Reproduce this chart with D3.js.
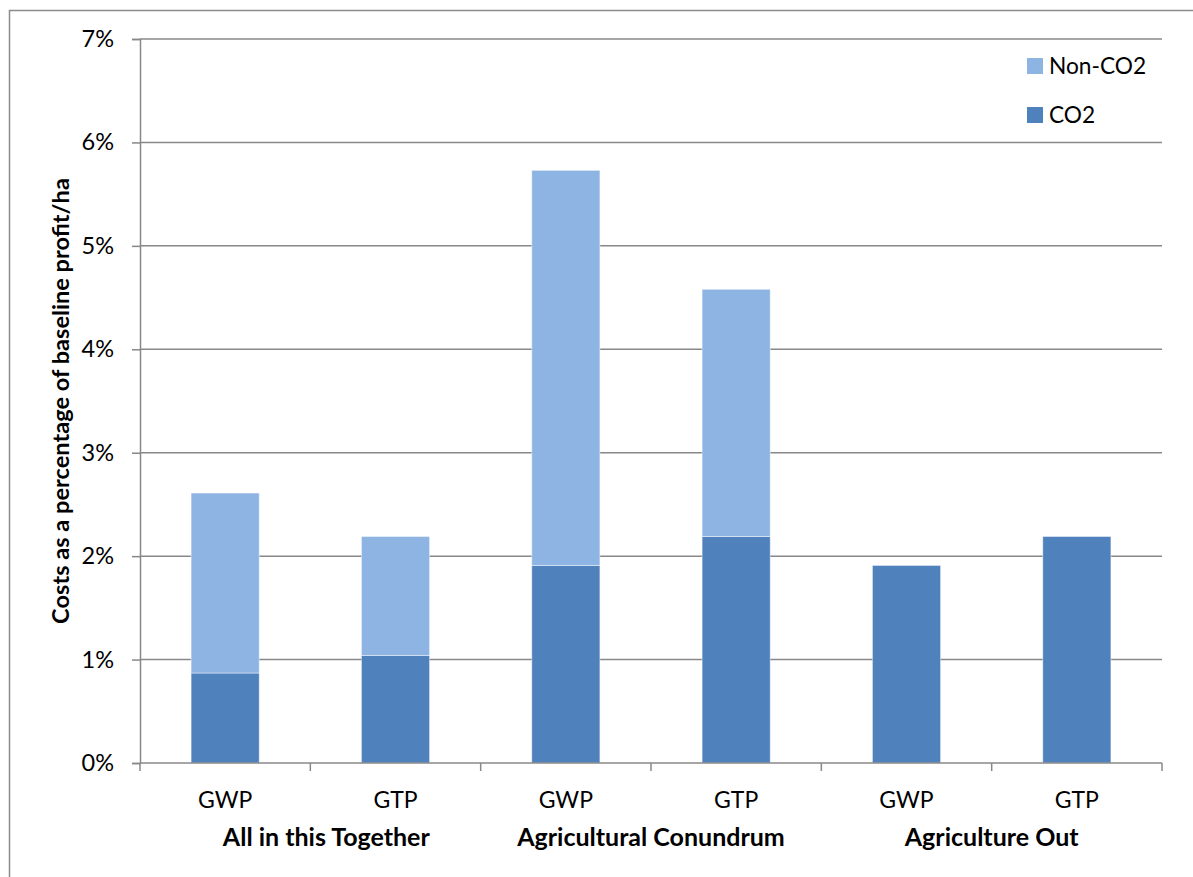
<!DOCTYPE html>
<html>
<head>
<meta charset="utf-8">
<script src="https://cdn.jsdelivr.net/npm/d3@7"></script>
<style>
  html, body { margin: 0; padding: 0; background: #fff; }
  svg { display: block; font-family: Lato, "Open Sans", sans-serif; }
</style>
</head>
<body>
<svg id="chart" width="1193" height="877"></svg>
<script>
// Scenario groups and the two metrics shown inside each group
const groups = ["All in this Together", "Agricultural Conundrum", "Agriculture Out"];
const metrics = ["GWP", "GTP"];

// Costs as % of baseline profit/ha, one entry per bar (group × metric)
const co2Values    = [0.87, 1.04, 1.91, 2.19, 1.91, 2.19];
const nonCo2Values = [1.74, 1.15, 3.82, 2.39, 0.00, 0.00];

const yTicks = [0, 1, 2, 3, 4, 5, 6, 7];
const seriesNames = ["Non-CO2", "CO2"];

const colors = { "CO2": "#4F81BD", "Non-CO2": "#8EB4E3" };

const bars = [];
groups.forEach((g, gi) => metrics.forEach((m, mi) => {
  const i = gi * metrics.length + mi;
  bars.push({ id: i, group: g, metric: m, co2: co2Values[i], nonCo2: nonCo2Values[i] });
}));

const svg = d3.select("#chart");
const plot = { left: 140, right: 1162, top: 39, bottom: 763 };

// Outer chart frame
svg.append("rect")
  .attr("x", 9.5).attr("y", 10.5)
  .attr("width", 1300).attr("height", 1000)
  .attr("fill", "none").attr("stroke", "#8c8c8c").attr("stroke-width", 1.5);

const x = d3.scaleBand()
  .domain(bars.map(d => d.id))
  .range([plot.left, plot.right])
  .paddingInner(0.6)
  .paddingOuter(0.3);

const y = d3.scaleLinear().domain([0, 7]).range([plot.bottom, plot.top]);

// Horizontal gridlines
svg.append("g")
  .selectAll("line")
  .data(yTicks.filter(t => t > 0))
  .join("line")
  .attr("x1", plot.left).attr("x2", plot.right)
  .attr("y1", d => y(d)).attr("y2", d => y(d))
  .attr("stroke", "#888").attr("stroke-width", 1.5);

// Y axis
const yAxis = svg.append("g")
  .attr("transform", `translate(${plot.left},0)`)
  .call(d3.axisLeft(y).tickValues(yTicks).tickFormat(d => d + "%").tickSize(8).tickPadding(18));
yAxis.select(".domain").attr("stroke", "#888").attr("stroke-width", 1.5);
yAxis.selectAll(".tick line").attr("stroke", "#888").attr("stroke-width", 1.5);
yAxis.selectAll(".tick text")
  .attr("font-family", "Lato, sans-serif")
  .attr("font-size", 23.5).attr("fill", "#000");

// Stacked bars: CO2 at the base, Non-CO2 on top
const stack = d3.stack().keys(["co2", "nonCo2"]);
const layers = stack(bars);
const layerColor = { co2: colors["CO2"], nonCo2: colors["Non-CO2"] };

svg.append("g")
  .selectAll("g")
  .data(layers)
  .join("g")
  .attr("fill", d => layerColor[d.key])
  .selectAll("rect")
  .data(d => d.filter(s => s[1] - s[0] > 0))
  .join("rect")
  .attr("x", d => x(d.data.id))
  .attr("width", x.bandwidth())
  .attr("y", d => y(d[1]))
  .attr("height", d => y(d[0]) - y(d[1]))
  .attr("stroke", "rgba(255,255,255,0.45)")
  .attr("stroke-width", 1);

// X axis line and category dividers
const step = x.step();
const dividers = d3.range(bars.length + 1).map(i => plot.left + i * step);
svg.append("line")
  .attr("x1", plot.left).attr("x2", plot.right)
  .attr("y1", plot.bottom).attr("y2", plot.bottom)
  .attr("stroke", "#888").attr("stroke-width", 1.5);
svg.append("g")
  .selectAll("line")
  .data(dividers)
  .join("line")
  .attr("x1", d => d).attr("x2", d => d)
  .attr("y1", plot.bottom).attr("y2", plot.bottom + 8)
  .attr("stroke", "#888").attr("stroke-width", 1.5);

// Metric labels under each bar
svg.append("g")
  .selectAll("text")
  .data(bars)
  .join("text")
  .attr("x", d => x(d.id) + x.bandwidth() / 2)
  .attr("y", 808)
  .attr("text-anchor", "middle")
  .attr("font-size", 23)
  .attr("fill", "#000")
  .text(d => d.metric);

// Group labels, centred under their pair of bars
const groupNudge = [16, 0, 0];
svg.append("g")
  .selectAll("text")
  .data(groups)
  .join("text")
  .attr("x", (g, gi) => {
    const ids = bars.filter(b => b.group === g).map(b => b.id);
    return (x(ids[0]) + x(ids[ids.length - 1]) + x.bandwidth()) / 2 + groupNudge[gi];
  })
  .attr("y", 846)
  .attr("text-anchor", "middle")
  .attr("font-size", 25)
  .attr("font-weight", "bold")
  .attr("fill", "#000")
  .text(d => d);

// Y axis title
svg.append("text")
  .attr("transform", `translate(69,${(plot.top + plot.bottom) / 2}) rotate(-90)`)
  .attr("text-anchor", "middle")
  .attr("font-size", 23.6)
  .attr("font-weight", "bold")
  .attr("fill", "#000")
  .text("Costs as a percentage of baseline profit/ha");

// Legend
const legend = svg.append("g").attr("transform", "translate(1027,58)");
const legendItems = legend.selectAll("g")
  .data(seriesNames)
  .join("g")
  .attr("transform", (d, i) => `translate(0,${i * 49})`);
legendItems.append("rect")
  .attr("width", 16).attr("height", 16)
  .attr("fill", d => colors[d]);
legendItems.append("text")
  .attr("x", 22).attr("y", 8)
  .attr("dy", "0.36em")
  .attr("font-size", 22.7)
  .attr("fill", "#000")
  .text(d => d);
</script>
</body>
</html>
